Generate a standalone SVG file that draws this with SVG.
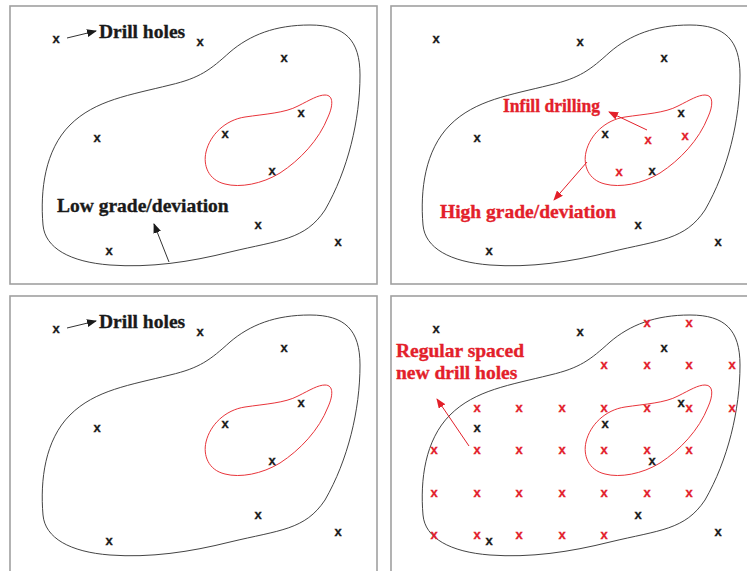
<svg xmlns="http://www.w3.org/2000/svg" xmlns:xlink="http://www.w3.org/1999/xlink" width="747" height="571" viewBox="0 0 747 571">
<style>
.frame{fill:#fff;stroke:#a0a0a0;stroke-width:1.6}
.outer{fill:none;stroke:#444;stroke-width:1}
.inner{fill:none;stroke:#e8343a;stroke-width:1}
.lbl{font-family:"Liberation Serif","Times New Roman",serif;font-weight:bold;font-size:19.5px;stroke-width:0.35}
.blk{fill:#1a1a1a;stroke:#1a1a1a}
.red{fill:#e3202a;stroke:#e3202a}
.xm{font-family:"Liberation Sans",Arial,sans-serif;font-weight:bold;font-size:13px;text-anchor:middle;stroke-width:0.3}
.ak{stroke:#333;stroke-width:1;fill:none}
.ar{stroke:#e3202a;stroke-width:1;fill:none}
</style>
<defs>
<marker id="mk" markerWidth="10" markerHeight="8" refX="9" refY="4" orient="auto" markerUnits="userSpaceOnUse">
<path d="M0,0 L10,4 L0,8 Z" fill="#1a1a1a"/>
</marker>
<marker id="mr" markerWidth="10" markerHeight="8" refX="9" refY="4" orient="auto" markerUnits="userSpaceOnUse">
<path d="M0,0 L10,4 L0,8 Z" fill="#e3202a"/>
</marker>
<path id="outerShape" d="M310,25 C345,25 360,40 360,75 C360,120 348,170 325,210 C305,240 280,240 230,252 C190,262 150,268 110,265 C70,262 45,248 43,225 C40,190 45,150 70,125 C95,100 130,95 170,85 C200,78 210,70 230,52 C250,35 275,25 310,25 Z"/>
<path id="innerShape" d="M325,95 C334,95 333,106 328,117 C319,140 300,160 280,173 C262,184 240,188 225,184 C208,180 203,165 206,152 C210,135 225,120 245,117 C265,114 285,113 298,106 C310,100 318,95 325,95 Z"/>
<g id="baseHoles" class="xm blk">
<text x="56" y="43">x</text>
<text x="200" y="46">x</text>
<text x="284" y="62">x</text>
<text x="301" y="117">x</text>
<text x="225" y="138">x</text>
<text x="97" y="142">x</text>
<text x="272" y="175">x</text>
<text x="258" y="229">x</text>
<text x="338" y="246">x</text>
<text x="109" y="255">x</text>
</g>
</defs>

<g id="panel1">
<rect class="frame" x="10" y="6" width="367" height="278"/>
<use xlink:href="#outerShape" class="outer"/>
<use xlink:href="#innerShape" class="inner"/>
<use xlink:href="#baseHoles"/>
<text class="lbl blk" x="99" y="38">Drill holes</text>
<text class="lbl blk" x="57" y="212">Low grade/deviation</text>
</g>

<g id="panel2" transform="translate(380,0)">
<rect class="frame" x="11" y="6" width="370" height="278"/>
<use xlink:href="#outerShape" class="outer"/>
<use xlink:href="#innerShape" class="inner"/>
<use xlink:href="#baseHoles"/>
<g class="xm red">
<text x="268" y="144">x</text>
<text x="305" y="140">x</text>
<text x="239" y="176">x</text>
</g>
<text class="lbl red" x="123" y="112" textLength="97" lengthAdjust="spacingAndGlyphs">Infill drilling</text>
<text class="lbl red" x="60" y="218">High grade/deviation</text>
</g>

<g id="panel3" transform="translate(0,290)">
<rect class="frame" x="10" y="6" width="367" height="290"/>
<use xlink:href="#outerShape" class="outer"/>
<use xlink:href="#innerShape" class="inner"/>
<use xlink:href="#baseHoles"/>
<text class="lbl blk" x="99" y="38">Drill holes</text>
</g>

<g id="panel4" transform="translate(380,290)">
<rect class="frame" x="11" y="6" width="370" height="290"/>
<use xlink:href="#outerShape" class="outer"/>
<use xlink:href="#innerShape" class="inner"/>
<use xlink:href="#baseHoles"/>
<g class="xm red">
<text x="267" y="37">x</text><text x="309" y="37">x</text>
<text x="224" y="79">x</text><text x="267" y="79">x</text><text x="309" y="79">x</text><text x="352" y="79">x</text>
<text x="97" y="122">x</text><text x="139" y="122">x</text><text x="182" y="122">x</text><text x="224" y="122">x</text><text x="267" y="122">x</text><text x="309" y="122">x</text><text x="352" y="122">x</text>
<text x="54" y="164">x</text><text x="97" y="164">x</text><text x="139" y="164">x</text><text x="182" y="164">x</text><text x="224" y="164">x</text><text x="267" y="164">x</text><text x="309" y="164">x</text>
<text x="54" y="207">x</text><text x="97" y="207">x</text><text x="139" y="207">x</text><text x="182" y="207">x</text><text x="224" y="207">x</text><text x="267" y="207">x</text><text x="309" y="207">x</text>
<text x="54" y="249">x</text><text x="97" y="249">x</text><text x="139" y="249">x</text><text x="182" y="249">x</text><text x="224" y="249">x</text>
</g>
<text class="lbl red" x="16" y="67">Regular spaced</text>
<text class="lbl red" x="16" y="89">new drill holes</text>
</g>

<g id="connectors">
<line class="ak" x1="67" y1="38" x2="96" y2="31" marker-end="url(#mk)"/>
<line class="ak" x1="169" y1="262" x2="154" y2="224" marker-end="url(#mk)"/>
<line class="ar" x1="647" y1="130" x2="609" y2="112" marker-end="url(#mr)"/>
<line class="ar" x1="587" y1="162" x2="554" y2="200" marker-end="url(#mr)"/>
<line class="ak" x1="67" y1="328" x2="96" y2="321" marker-end="url(#mk)"/>
<line class="ar" x1="469" y1="446" x2="437" y2="399" marker-end="url(#mr)"/>
</g>
</svg>
